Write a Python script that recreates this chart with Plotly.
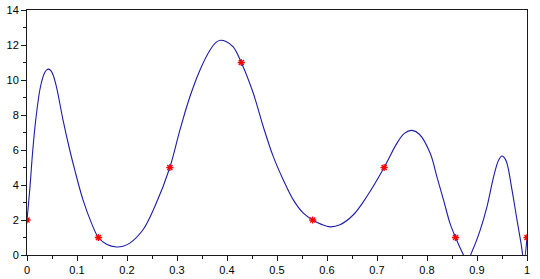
import plotly.graph_objects as go

# Curve samples
curve_x = [0, 0.006, 0.011, 0.0174, 0.0268, 0.035, 0.0395, 0.0435, 0.048, 0.052,
           0.0589, 0.0721, 0.0855, 0.0955, 0.112, 0.129, 0.1429, 0.16, 0.179, 0.192,
           0.2057, 0.232, 0.2557, 0.2857, 0.3058, 0.3258, 0.3458, 0.3658, 0.378, 0.3872,
           0.398, 0.4125, 0.4286, 0.4526, 0.4726, 0.4926, 0.5126, 0.5326, 0.5527, 0.5714,
           0.589, 0.6061, 0.626, 0.6528, 0.6796, 0.7143, 0.7397, 0.7547, 0.7697, 0.7847,
           0.8064, 0.8197, 0.833, 0.8459, 0.8571, 0.8697, 0.8805, 0.8915, 0.9065, 0.92,
           0.9333, 0.9433, 0.950, 0.955, 0.960, 0.970, 0.980, 0.988, 0.994, 1.0]
curve_y = [2.0, 3.9, 5.8, 7.7, 9.6, 10.4, 10.58, 10.62, 10.52, 10.3,
           9.61, 7.71, 6.0, 4.86, 3.15, 1.82, 1.0, 0.6, 0.46, 0.5,
           0.68, 1.44, 2.77, 5.0, 7.14, 9.04, 10.56, 11.70, 12.15, 12.27,
           12.2, 11.89, 11.0, 9.24, 7.33, 5.62, 4.29, 3.15, 2.39, 2.0,
           1.75, 1.61, 1.73, 2.30, 3.34, 5.0, 6.38, 6.95, 7.12, 6.9,
           5.81, 4.48, 3.15, 1.82, 1.0, 0.2, -0.3, 0.3, 1.44, 2.77,
           4.48, 5.43, 5.66, 5.55, 5.24, 3.72, 2.01, 0.68, -0.3, 1.0]

# Data points (red stars)
point_x = [0, 1/7, 2/7, 3/7, 4/7, 5/7, 6/7, 1]
point_y = [2, 1, 5, 11, 2, 5, 1, 1]

x_ticks = [0, 0.1, 0.2, 0.3, 0.4, 0.5, 0.6, 0.7, 0.8, 0.9, 1]
x_labels = ["0", "0.1", "0.2", "0.3", "0.4", "0.5", "0.6", "0.7", "0.8", "0.9", "1"]
y_ticks = [0, 2, 4, 6, 8, 10, 12, 14]

fig = go.Figure()
fig.add_trace(go.Scatter(
    x=curve_x, y=curve_y, mode="lines",
    line=dict(color="#1c1ca8", width=1.1, shape="spline", smoothing=1.0),
    showlegend=False))
fig.add_trace(go.Scatter(
    x=point_x, y=point_y, mode="markers",
    marker=dict(symbol="asterisk-open", size=6, color="#ff0000",
                line=dict(color="#ff0000", width=1.3)),
    showlegend=False))

axis_common = dict(
    showgrid=False, zeroline=False, showline=True, mirror=True,
    linecolor="#1a1a1a", linewidth=1, automargin=False,
    ticks="outside", ticklen=5, tickwidth=1, tickcolor="#1a1a1a",
    tickfont=dict(family="Liberation Sans, Arial, sans-serif", size=11, color="#000000"),
)

fig.update_layout(
    width=540, height=279,
    margin=dict(l=27, r=13, t=10, b=24),
    paper_bgcolor="white", plot_bgcolor="white",
    xaxis=dict(range=[0, 1], tickvals=x_ticks, ticktext=x_labels,
               minor=dict(ticks="outside", ticklen=3, dtick=0.05, tickcolor="#1a1a1a"),
               **axis_common),
    yaxis=dict(range=[0, 14], tickvals=y_ticks,
               minor=dict(ticks="outside", ticklen=3, dtick=1, tickcolor="#1a1a1a"),
               **axis_common),
)

fig.write_html("out.html")
